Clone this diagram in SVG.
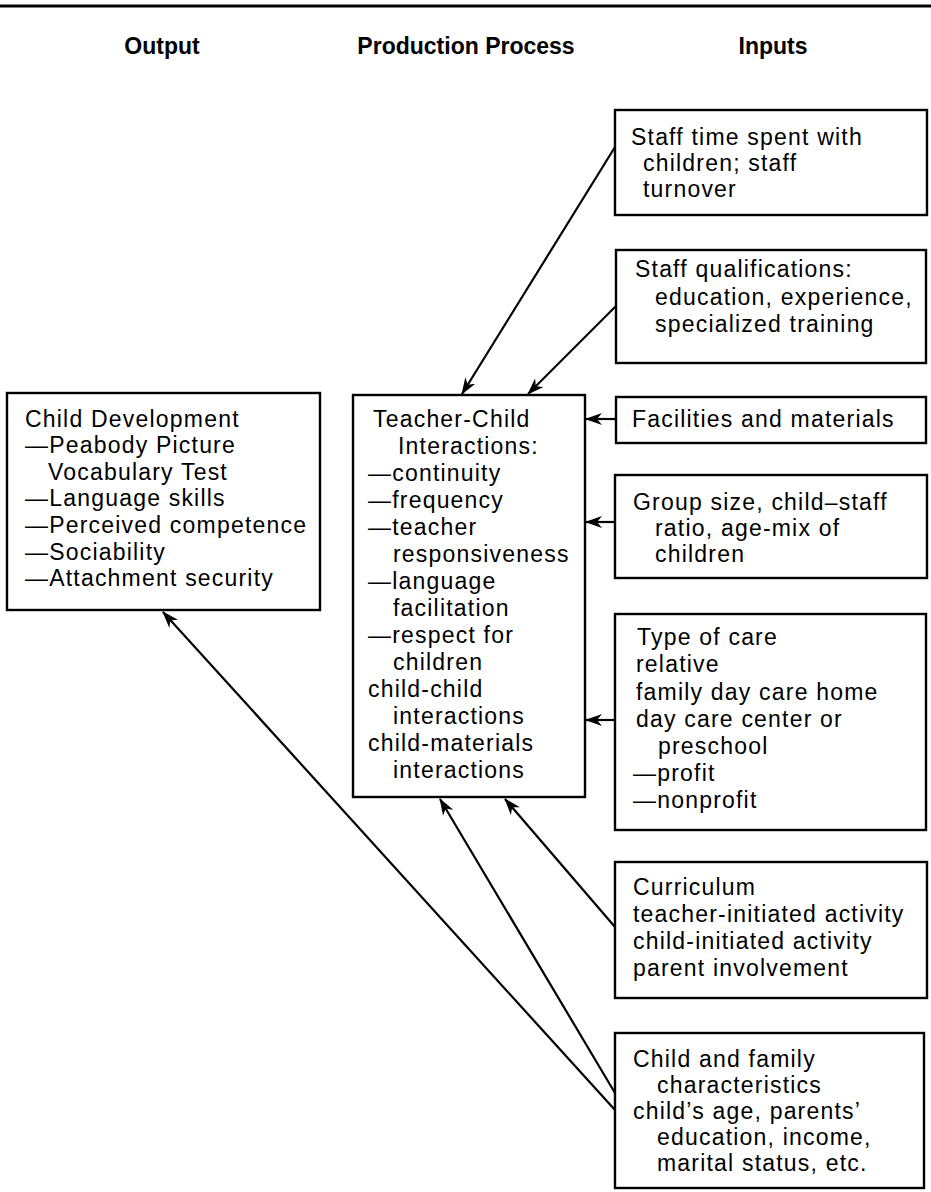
<svg xmlns="http://www.w3.org/2000/svg" width="931" height="1192" viewBox="0 0 931 1192">
<style>
.box{fill:#fff;stroke:#000;stroke-width:2.4}
.t{font-family:"Liberation Sans",Arial,Helvetica,sans-serif;font-size:23px;letter-spacing:1.2px;fill:#000}
.h{font-family:"Liberation Sans",Arial,Helvetica,sans-serif;font-size:23px;font-weight:bold;fill:#000;text-anchor:middle}
.c{stroke:#000;stroke-width:2.2;fill:none;marker-end:url(#arr)}
</style>
<defs>
<marker id="arr" viewBox="0 0 17 12" refX="16" refY="6" markerWidth="17" markerHeight="12" markerUnits="userSpaceOnUse" orient="auto">
<path d="M0,0 L17,6 L0,12 L5,6 z" fill="#000"/>
</marker>
</defs>
<rect width="931" height="1192" fill="#fff"/>
<line x1="0" y1="6" x2="931" y2="6" stroke="#000" stroke-width="3"/>
<g id="headers">
<text class="h" x="162" y="54">Output</text>
<text class="h" x="466" y="54">Production Process</text>
<text class="h" x="773" y="54">Inputs</text>
</g>
<g id="connectors">
<line class="c" x1="615" y1="147" x2="462" y2="394"/>
<line class="c" x1="616" y1="306" x2="528" y2="394"/>
<line class="c" x1="616" y1="419" x2="586" y2="419"/>
<line class="c" x1="615" y1="522" x2="586" y2="522"/>
<line class="c" x1="615" y1="720" x2="586" y2="720"/>
<line class="c" x1="615" y1="927" x2="505" y2="799"/>
<line class="c" x1="615" y1="1093" x2="440" y2="799"/>
<line class="c" x1="615" y1="1110" x2="163" y2="612"/>
</g>
<g id="output">
<rect class="box" x="7" y="393" width="313" height="217"/>
<text class="t" x="25" y="427">Child Development</text>
<text class="t" x="25" y="453">—Peabody Picture</text>
<text class="t" x="48" y="480">Vocabulary Test</text>
<text class="t" x="25" y="506">—Language skills</text>
<text class="t" x="25" y="533">—Perceived competence</text>
<text class="t" x="25" y="560">—Sociability</text>
<text class="t" x="25" y="586">—Attachment security</text>
</g>
<g id="process">
<rect class="box" x="353" y="395" width="232" height="402"/>
<text class="t" x="373" y="427">Teacher-Child</text>
<text class="t" x="398" y="454">Interactions:</text>
<text class="t" x="368" y="481">—continuity</text>
<text class="t" x="368" y="508">—frequency</text>
<text class="t" x="368" y="535">—teacher</text>
<text class="t" x="393" y="562">responsiveness</text>
<text class="t" x="368" y="589">—language</text>
<text class="t" x="393" y="616">facilitation</text>
<text class="t" x="368" y="643">—respect for</text>
<text class="t" x="393" y="670">children</text>
<text class="t" x="368" y="697">child-child</text>
<text class="t" x="393" y="724">interactions</text>
<text class="t" x="368" y="751">child-materials</text>
<text class="t" x="393" y="778">interactions</text>
</g>
<g id="staff-time">
<rect class="box" x="615" y="110" width="312" height="105"/>
<text class="t" x="631" y="145">Staff time spent with</text>
<text class="t" x="643" y="171">children; staff</text>
<text class="t" x="643" y="197">turnover</text>
</g>
<g id="staff-qualifications">
<rect class="box" x="616" y="250" width="310" height="113"/>
<text class="t" x="635" y="277">Staff qualifications:</text>
<text class="t" x="655" y="305">education, experience,</text>
<text class="t" x="655" y="332">specialized training</text>
</g>
<g id="facilities">
<rect class="box" x="616" y="397" width="310" height="46"/>
<text class="t" x="632" y="427">Facilities and materials</text>
</g>
<g id="group-size">
<rect class="box" x="615" y="475" width="312" height="103"/>
<text class="t" x="633" y="510">Group size, child–staff</text>
<text class="t" x="655" y="536">ratio, age-mix of</text>
<text class="t" x="655" y="562">children</text>
</g>
<g id="type-of-care">
<rect class="box" x="615" y="614" width="311" height="216"/>
<text class="t" x="637" y="645">Type of care</text>
<text class="t" x="636" y="672">relative</text>
<text class="t" x="636" y="700">family day care home</text>
<text class="t" x="636" y="727">day care center or</text>
<text class="t" x="658" y="754">preschool</text>
<text class="t" x="633" y="781">—profit</text>
<text class="t" x="633" y="808">—nonprofit</text>
</g>
<g id="curriculum">
<rect class="box" x="615" y="862" width="312" height="136"/>
<text class="t" x="633" y="895">Curriculum</text>
<text class="t" x="633" y="922">teacher-initiated activity</text>
<text class="t" x="633" y="949">child-initiated activity</text>
<text class="t" x="633" y="976">parent involvement</text>
</g>
<g id="child-family">
<rect class="box" x="615" y="1033" width="309" height="155"/>
<text class="t" x="633" y="1067">Child and family</text>
<text class="t" x="657" y="1093">characteristics</text>
<text class="t" x="633" y="1119">child’s age, parents’</text>
<text class="t" x="657" y="1145">education, income,</text>
<text class="t" x="657" y="1171">marital status, etc.</text>
</g>
</svg>
